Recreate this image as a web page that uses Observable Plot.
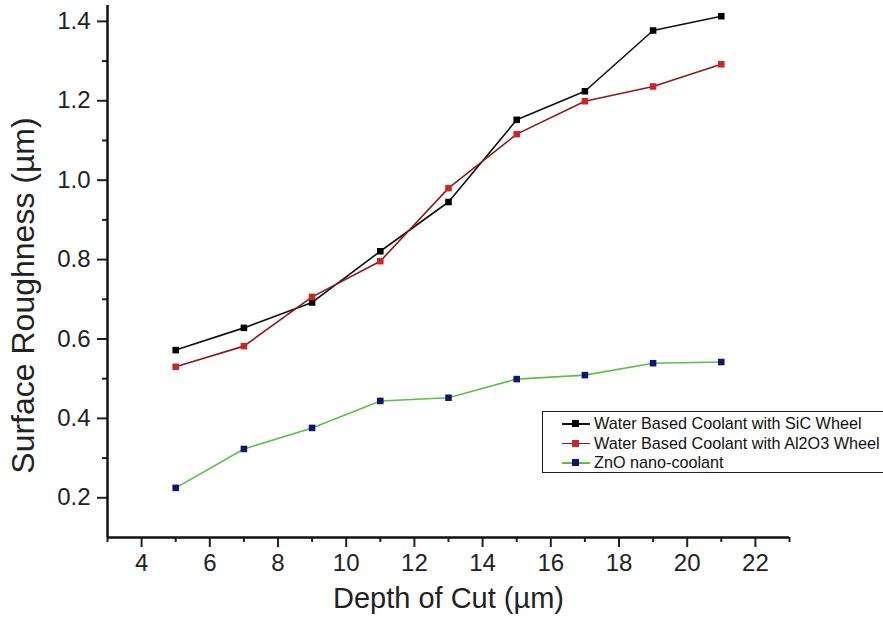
<!DOCTYPE html>
<html><head><meta charset="utf-8">
<script src="https://cdn.jsdelivr.net/npm/d3@7"></script>
<script src="https://cdn.jsdelivr.net/npm/@observablehq/plot@0.6"></script>
<style>
body{margin:0;background:#fff}
#wrap{position:relative;width:883px;height:631px;font-family:"Liberation Sans",Arial,sans-serif;overflow:hidden}
#wrap svg g[aria-label$="tick label"]{font-size:24px !important}
#legend{position:absolute;left:542px;top:411px;width:350px;height:62px;border:1.5px solid #222;background:#fff;box-sizing:border-box;padding-top:2px}
.row{display:flex;align-items:center;height:19.5px;font-size:16.2px;color:#111;white-space:nowrap}
.sym{position:relative;width:28px;height:19px;margin-left:19px;margin-right:4px}
.sym .ln{position:absolute;left:0;right:0;top:9px;height:1.5px}
.sym .mk{position:absolute;left:10px;top:6px;width:7px;height:7px}
</style>
</head><body><div id="wrap"></div>
<script>
const depth = [5, 7, 9, 11, 13, 15, 17, 19, 21];
const sic   = [0.572, 0.628, 0.692, 0.821, 0.945, 1.152, 1.224, 1.377, 1.413];
const al2o3 = [0.530, 0.582, 0.706, 0.796, 0.980, 1.116, 1.199, 1.236, 1.292];
const zno   = [0.225, 0.323, 0.376, 0.444, 0.452, 0.499, 0.509, 0.539, 0.542];
const seriesNames = ["Water Based Coolant with SiC Wheel", "Water Based Coolant with Al2O3 Wheel", "ZnO nano-coolant"];
const xTicks = [4, 6, 8, 10, 12, 14, 16, 18, 20, 22];
const xMinor = [3, 5, 7, 9, 11, 13, 15, 17, 19, 21, 23];
const yTicks = [0.2, 0.4, 0.6, 0.8, 1.0, 1.2, 1.4];
const yMinor = [0.3, 0.5, 0.7, 0.9, 1.1, 1.3];

const styles = [
  {line: "#111111", marker: "#000000"},
  {line: "#8b1a1a", marker: "#c62828"},
  {line: "#5cbf4a", marker: "#14146e"}
];
const values = [sic, al2o3, zno];
const tables = values.map((v, i) => depth.map((d, j) => ({series: seriesNames[i], x: d, y: v[j]})));

const marks = [];
tables.forEach((t, i) => {
  marks.push(Plot.line(t, {x: "x", y: "y", stroke: styles[i].line, strokeWidth: 1.6}));
});
tables.forEach((t, i) => {
  marks.push(Plot.dot(t, {x: "x", y: "y", symbol: "square", r: 3.7, fill: styles[i].marker, stroke: "none"}));
});

const plot = Plot.plot({
  width: 883, height: 631,
  marginLeft: 107, marginTop: 5, marginBottom: 94, marginRight: 94,
  style: {fontFamily: "'Liberation Sans', Arial, sans-serif", fontSize: "24px", color: "#222", background: "#fff"},
  x: {domain: [3, 23]},
  y: {domain: [0.1, 1.44]},
  marks: [
    Plot.axisX({ticks: xTicks, tickSize: 10, tickPadding: 6, strokeWidth: 2, label: null, fontSize: 24}),
    Plot.axisX({ticks: xMinor, tickSize: 5, strokeWidth: 2, text: null, label: null}),
    Plot.axisY({ticks: yTicks, tickSize: 10, tickPadding: 7, strokeWidth: 2, tickFormat: d3.format(".1f"), label: null, fontSize: 24}),
    Plot.axisY({ticks: yMinor, tickSize: 5, strokeWidth: 2, text: null, label: null}),
    Plot.ruleY([0.1], {stroke: "#111", strokeWidth: 2.5}),
    Plot.ruleX([3], {stroke: "#111", strokeWidth: 2.5}),
    ...marks,
    Plot.text(["Surface Roughness (µm)"], {frameAnchor: "left", textAnchor: "middle", dx: -84, dy: 24, rotate: -90, fontSize: 32, fill: "#222"}),
    Plot.text(["Depth of Cut (µm)"], {frameAnchor: "bottom", textAnchor: "middle", dy: 70, fontSize: 29, fill: "#222"})
  ]
});
const wrap = document.getElementById("wrap");
wrap.appendChild(plot);

const legend = document.createElement("div");
legend.id = "legend";
seriesNames.forEach((name, i) => {
  const row = document.createElement("div");
  row.className = "row";
  row.innerHTML = `<div class="sym"><div class="ln" style="background:${styles[i].line}"></div><div class="mk" style="background:${styles[i].marker}"></div></div><span>${name}</span>`;
  legend.appendChild(row);
});
wrap.appendChild(legend);
</script>
</body></html>
